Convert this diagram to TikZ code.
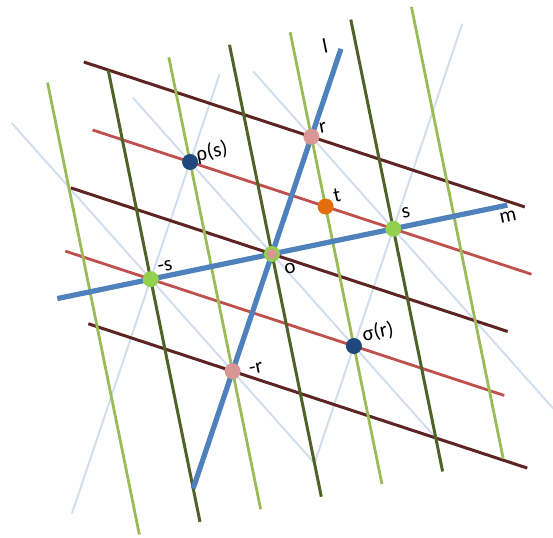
\documentclass[tikz,border=0pt]{standalone}
\usepackage{fontspec}
\setmainfont{Carlito}
\definecolor{cBrown}{HTML}{5E2424}
\definecolor{cRed}{HTML}{C0504D}
\definecolor{cDGreen}{HTML}{4F6228}
\definecolor{cLGreen}{HTML}{9BBB59}
\definecolor{cBlue}{HTML}{4F81BD}
\definecolor{cPale}{HTML}{D3DEEC}
\definecolor{cPink}{HTML}{D99694}
\definecolor{cDotGreen}{HTML}{92D050}
\definecolor{cOrange}{HTML}{E46C0A}
\definecolor{cNavy}{HTML}{1F497D}
\begin{document}
\begin{tikzpicture}[x={(121.3pt,25.2pt)}, y={(39.4pt,117.2pt)},
  paleline/.style={draw=cPale, line width=2pt},
  brownline/.style={draw=cBrown, line width=3pt},
  redline/.style={draw=cRed, line width=2.8pt},
  dgreenline/.style={draw=cDGreen, line width=3pt},
  lgreenline/.style={draw=cLGreen, line width=2.8pt},
  blueline/.style={draw=cBlue, line width=5.2pt},
  dot/.style={circle, inner sep=0pt, minimum size=16pt},
  lab/.style={inner sep=0pt, rotate=11.5, font=\fontsize{21pt}{25pt}\selectfont}]
\path[use as bounding box] (-272pt,-283pt) rectangle (281pt,254pt);
% pale lattice lines
\draw[paleline] (-1,-2) -- (-1,1.75);
\draw[paleline] (1,-2) -- (1,1.75);
\draw[paleline] (1,-2) -- (-2.7,1.7);
\draw[paleline] (2,-2) -- (-1.7,1.7);
\draw[paleline] (3,-2) -- (-0.71,1.71);
% brown and red family
\draw[brownline] (-2.24,2.12) -- (2.1,-0.05);
\draw[redline] (-1.96,1.48) -- (2.36,-0.68);
\draw[brownline] (-1.98,0.99) -- (2.32,-1.16);
\draw[redline] (-1.84,0.42) -- (2.48,-1.74);
\draw[brownline] (-1.42,-0.29) -- (2.9,-2.45);
% green family
\draw[lgreenline] (-0.34,-2.32) -- (-2.5,2);
\draw[dgreenline] (0.16,-2.32) -- (-2,2);
\draw[lgreenline] (0.66,-2.32) -- (-1.5,2);
\draw[dgreenline] (1.16,-2.32) -- (-1,2);
\draw[lgreenline] (1.66,-2.32) -- (-0.5,2);
\draw[dgreenline] (2.16,-2.32) -- (0,2);
\draw[lgreenline] (2.66,-2.32) -- (0.5,2);
% axes l and m
\draw[blueline] (0,-2) -- (0,1.75);
\draw[blueline] (-1.77,0) -- (1.94,0);
% points
\node[dot, fill=cPink] (r) at (0,1) {};
\node[dot, fill=cPink] (mr) at (0,-1) {};
\node[dot, fill=cDotGreen] (s) at (1,0) {};
\node[dot, fill=cDotGreen] (ms) at (-1,0) {};
\node[dot, fill=cOrange] (t) at (1/3,1/3) {};
\node[dot, fill=cNavy] (rhos) at (-1,1) {};
\node[dot, fill=cNavy] (sigr) at (1,-1) {};
\node[circle, inner sep=0pt, minimum size=13pt, fill=cPink, draw=cDotGreen, line width=3pt] (o) at (0,0) {};
% labels
\node[lab] (lbl) at (53pt,208pt) {l};
\node[lab] (lbr) at (51pt,126pt) {r};
\node[lab] (lbt) at (65pt,59pt) {t};
\node[lab] (lbs) at (134pt,41pt) {s};
\node[lab] (lbm) at (236pt,37pt) {m};
\node[lab] (lbo) at (18pt,-14pt) {o};
\node[lab] (lbms) at (-107pt,-12pt) {-s};
\node[lab] (lbrhos) at (-60pt,102pt) {ρ(s)};
\node[lab] (lbsigr) at (106pt,-78pt) {σ(r)};
\node[lab] (lbmr) at (-16pt,-114pt) {-r};
\end{tikzpicture}
\end{document}
